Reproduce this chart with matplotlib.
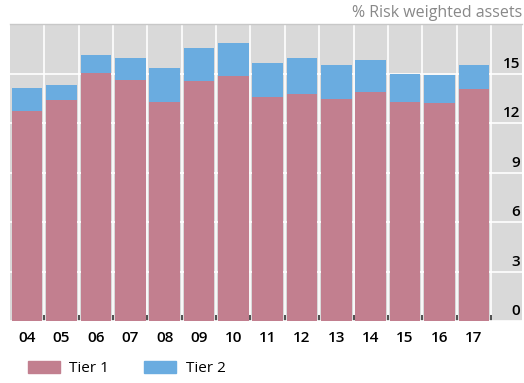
import numpy as np
import matplotlib
matplotlib.use('Agg')
import matplotlib.pyplot as plt
from matplotlib.patches import Patch
from matplotlib.transforms import blended_transform_factory, offset_copy

plt.rcParams['font.family'] = ['Open Sans', 'DejaVu Sans']

# Data (% of risk weighted assets)
years = ['04', '05', '06', '07', '08', '09', '10', '11', '12', '13', '14', '15', '16', '17']
tier1 = [12.74, 13.42, 15.06, 14.62, 13.28, 14.54, 14.88, 13.61, 13.75, 13.47, 13.89, 13.28, 13.21, 14.07]
total = [14.13, 14.33, 16.13, 15.93, 15.33, 16.54, 16.86, 15.67, 15.93, 15.53, 15.81, 15.00, 14.92, 15.53]
tier2 = [t - a for t, a in zip(total, tier1)]
yticks = [0, 3, 6, 9, 12, 15]

pink = '#c27f8f'
blue = '#6aace0'
bg = '#d9d9d9'

fig = plt.figure(figsize=(5.24, 3.83), dpi=100)
ax = fig.add_axes([0.019, 0.161, 0.977, 0.776])
ax.set_facecolor(bg)

x = np.arange(len(years))
ax.bar(x, tier1, width=0.89, color=pink, zorder=2)
ax.bar(x, tier2, width=0.89, bottom=tier1, color=blue, zorder=2)

ax.set_xlim(-0.5, 14.4)
ax.set_ylim(0, 18)

# grid: white lines between the bars and at every 3 points
ax.set_yticks(yticks)
ax.set_xticks(x)
ax.set_xticklabels(years, fontsize=11, color='black', fontweight='semibold')
ax.set_xticks(x + 0.5, minor=True)
ax.grid(True, axis='y', which='major', color='white', lw=1.2, zorder=1)
ax.grid(True, axis='x', which='minor', color='white', lw=1.2, zorder=1)
ax.tick_params(axis='x', which='major', length=0, pad=7)
ax.tick_params(axis='x', which='minor', direction='in', length=4, width=1.2, color='#333333')
ax.tick_params(axis='y', length=0, labelleft=False)

# y labels sit inside the plot, right-aligned, just above each grid line
trans = offset_copy(blended_transform_factory(ax.transAxes, ax.transData), fig=fig, y=3, units='dots')
for v in yticks:
    ax.text(0.997, v, str(v), transform=trans, ha='right', va='bottom',
            fontsize=11, color='black', fontweight='semibold')

for side in ['left', 'right', 'bottom']:
    ax.spines[side].set_visible(False)
ax.spines['top'].set_color('#c8c8c8')
ax.spines['top'].set_linewidth(1)

fig.text(0.996, 0.966, '% Risk weighted assets', ha='right', va='center',
         fontsize=11.5, color='#888888')

handles = [Patch(color=pink, label='Tier 1'), Patch(color=blue, label='Tier 2')]
fig.legend(handles=handles, loc='center left', bbox_to_anchor=(0.042, 0.038), ncol=2,
           frameon=False, handlelength=2.1, handleheight=0.8,
           columnspacing=2.3, handletextpad=0.6, borderaxespad=0,
           prop={'size': 11})

fig.savefig('out.png', dpi=100)
